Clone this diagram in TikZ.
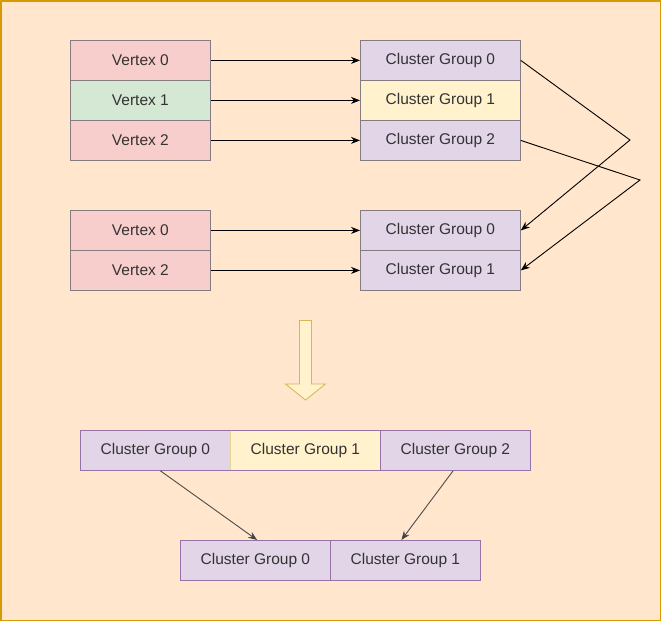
\documentclass[tikz,border=0pt]{standalone}
\usepackage{fontspec}
\setmainfont{Liberation Sans}
\usetikzlibrary{arrows.meta}
\definecolor{bg}{HTML}{FFE6CC}
\definecolor{frame}{HTML}{D79B00}
\definecolor{redf}{HTML}{F8CECC}
\definecolor{greenf}{HTML}{D5E8D4}
\definecolor{purf}{HTML}{E1D5E7}
\definecolor{purs}{HTML}{9673A6}
\definecolor{yelf}{HTML}{FFF2CC}
\definecolor{yels}{HTML}{D6B656}
\definecolor{boxs}{HTML}{847C80}
\definecolor{txt}{HTML}{333333}
\tikzset{
  cell/.style={draw=boxs, line width=0.8pt, minimum height=40pt, inner sep=0pt, text=txt, font=\fontsize{15.5}{18}\selectfont, anchor=north west},
  vbox/.style={cell, minimum width=140pt},
  cbox/.style={cell, minimum width=160pt},
  bbox/.style={cell, minimum width=150pt, draw=purs},
  conn/.style={line width=0.9pt, -{Stealth[length=9pt,width=7pt]}},
  conng/.style={conn, draw=black!70, -{Stealth[length=9pt,width=7pt,fill=black!80]}}
}
\begin{document}
\begin{tikzpicture}[x=1pt,y=-1pt]
\fill[bg] (0,0) rectangle (661,621);
\draw[frame, line width=1.5pt] (0.75,0.75) rectangle (660.25,620.25);
\useasboundingbox (0,0) rectangle (661,621);
% top set
\node[vbox, fill=redf] (v0) at (70,40) {Vertex 0};
\node[vbox, fill=greenf] (v1) at (70,80) {Vertex 1};
\node[vbox, fill=redf] (v2) at (70,120) {Vertex 2};
\node[cbox, fill=purf] (c0) at (360,40) {Cluster Group 0};
\node[cbox, fill=yelf] (c1) at (360,80) {Cluster Group 1};
\node[cbox, fill=purf] (c2) at (360,120) {Cluster Group 2};
% second set
\node[vbox, fill=redf] (w0) at (70,210) {Vertex 0};
\node[vbox, fill=redf] (w2) at (70,250) {Vertex 2};
\node[cbox, fill=purf] (d0) at (360,210) {Cluster Group 0};
\node[cbox, fill=purf] (d1) at (360,250) {Cluster Group 1};
\draw[conn] (v0) -- (c0);
\draw[conn] (v1) -- (c1);
\draw[conn] (v2) -- (c2);
\draw[conn] (w0) -- (d0);
\draw[conn] (w2) -- (d1);
\coordinate (k1) at (630,140);
\coordinate (k2) at (640,180);
\draw[conn] (c0.east) -- (k1) -- (d0.east);
\draw[conn] (c2.east) -- (k2) -- (d1.east);
% hollow arrow
\draw[draw=yels, fill=yelf, line width=0.8pt] (299.5,320.5) -- (311.5,320.5) -- (311.5,384) -- (325.5,384) -- (305.5,400) -- (285.5,384) -- (299.5,384) -- cycle;
% bottom rows
\node[bbox, fill=purf] (b0) at (80,430) {Cluster Group 0};
\node[bbox, fill=yelf, draw=yels!60] (b1) at (230,430) {Cluster Group 1};
\node[bbox, fill=purf] (b2) at (380,430) {Cluster Group 2};
\draw[draw=purs, line width=0.8pt] (b0.north west) rectangle (b2.south east);
\node[bbox, fill=purf] (e0) at (180,540) {Cluster Group 0};
\node[bbox, fill=purf] (e1) at (330,540) {Cluster Group 1};
\draw[conng] ([xshift=5pt]b0.south) -- ([xshift=1.7pt]e0.north);
\draw[conng] ([xshift=-2.3pt]b2.south) -- ([xshift=-4pt]e1.north);
\end{tikzpicture}
\end{document}
